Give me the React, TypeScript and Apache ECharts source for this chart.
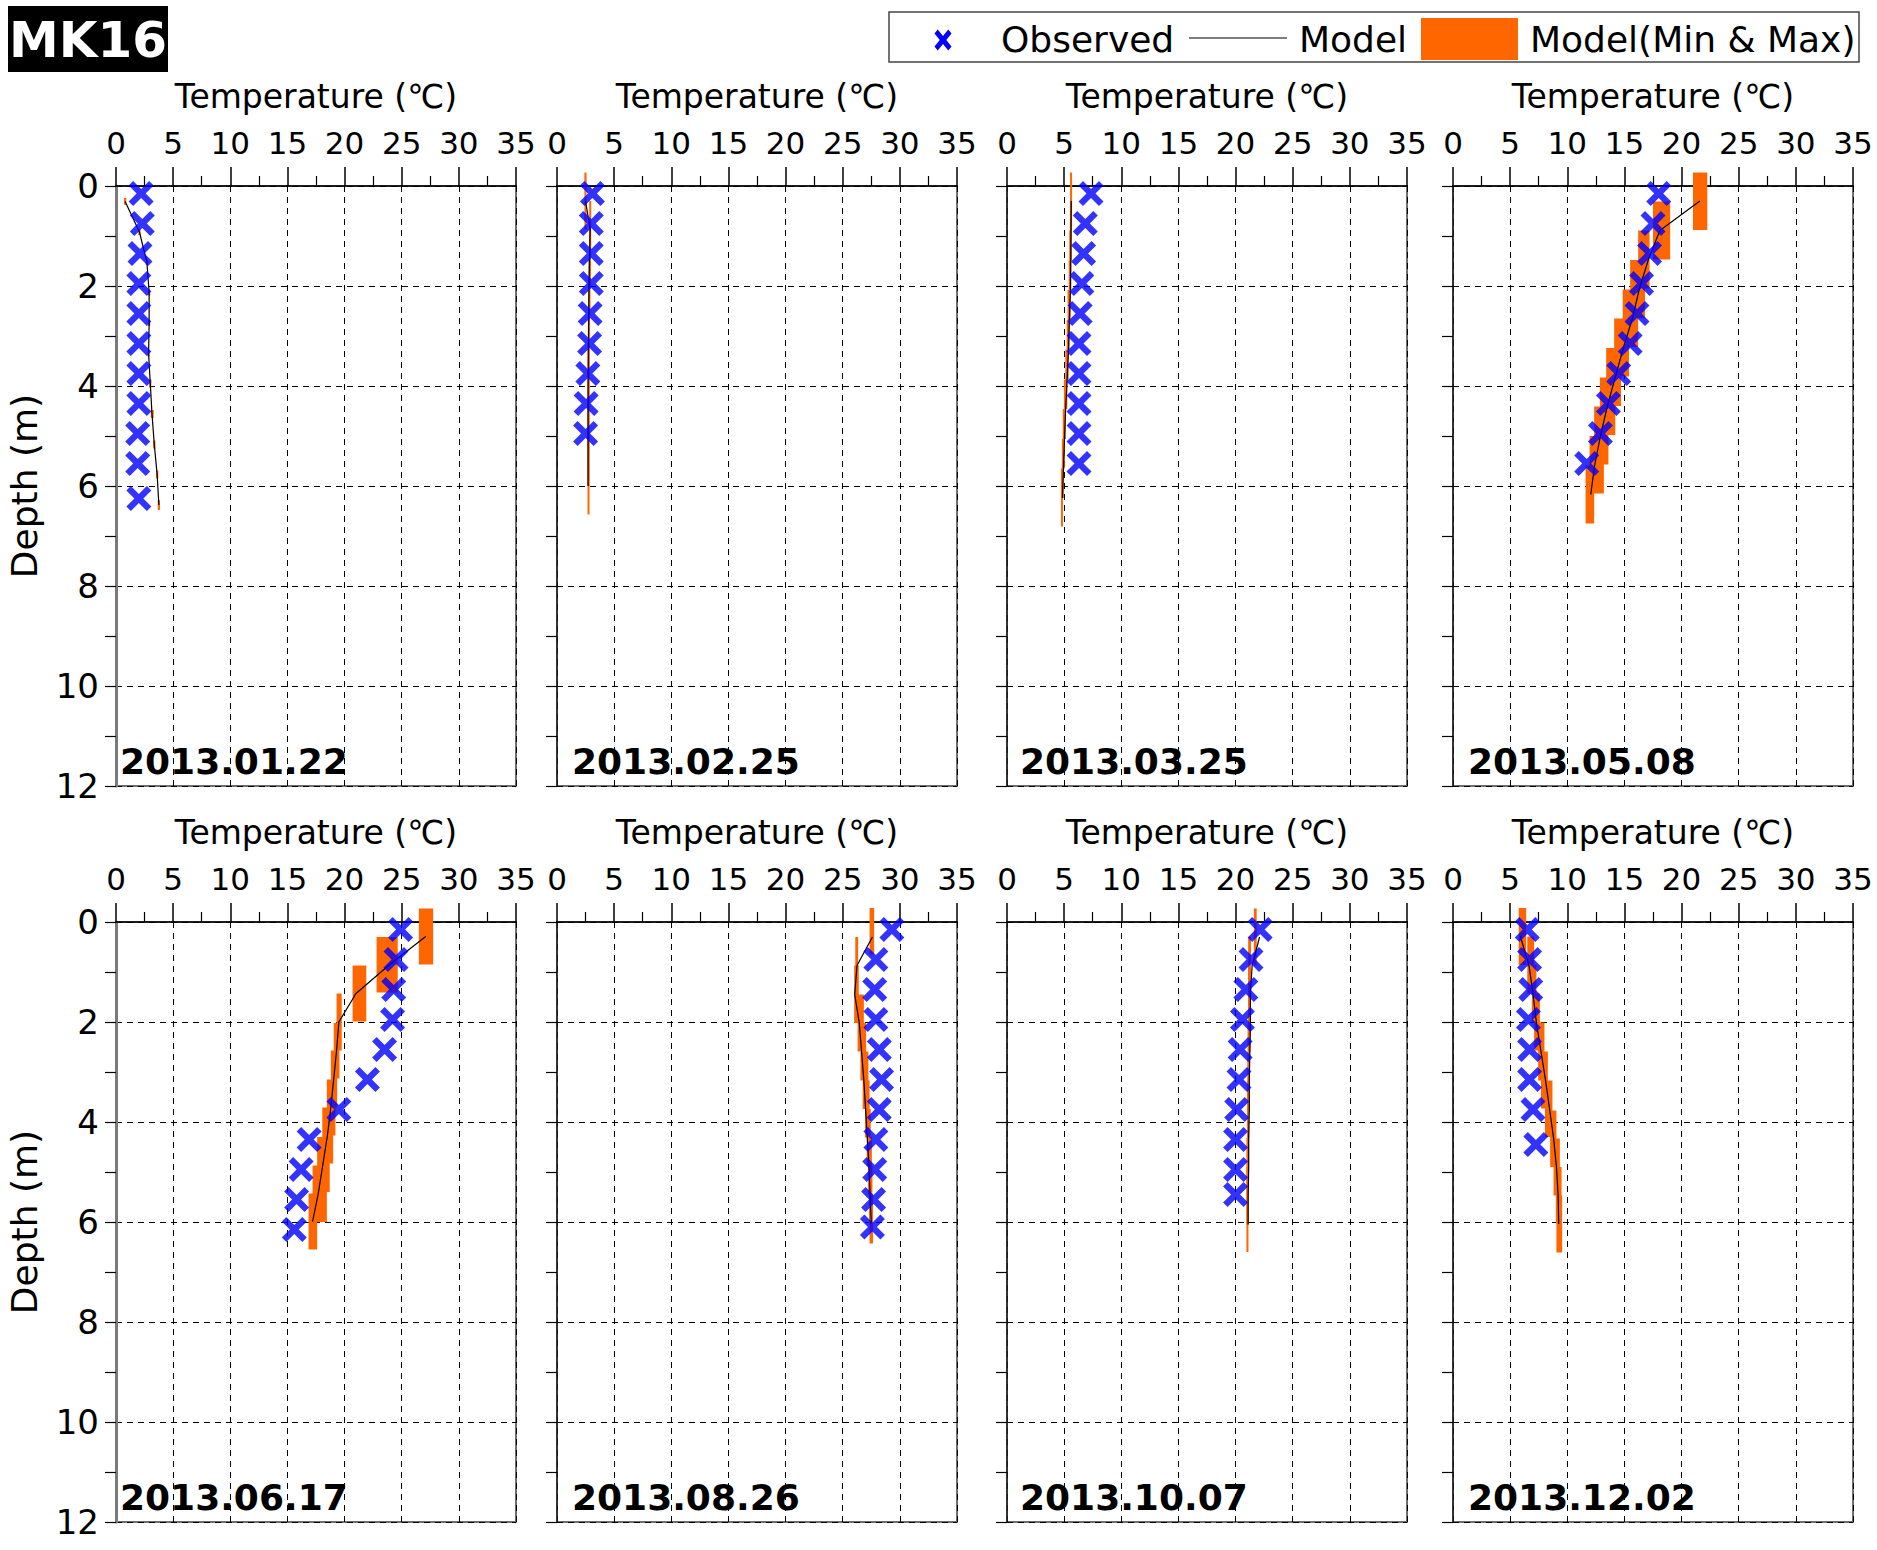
import React, { useEffect, useRef } from 'react';
import * as echarts from 'echarts';

const FONT = 'DejaVu Sans';

const dates = ['2013.01.22', '2013.02.25', '2013.03.25', '2013.05.08', '2013.06.17', '2013.08.26', '2013.10.07', '2013.12.02'];
const xTicks = [0, 5, 10, 15, 20, 25, 30, 35];
const yTicks = [0, 2, 4, 6, 8, 10, 12];
const legendNames = ['Observed', 'Model', 'Model(Min & Max)'];

// Observed profiles
const obsDepth1 = [0.15, 0.75, 1.35, 1.95, 2.55, 3.15, 3.75, 4.35, 4.95, 5.55, 6.25];
const obsTemp1 = [2.2, 2.3, 2.1, 2.0, 2.0, 2.0, 2.0, 2.0, 1.9, 1.9, 2.0];
const obsDepth2 = [0.15, 0.75, 1.35, 1.95, 2.55, 3.15, 3.75, 4.35, 4.95];
const obsTemp2 = [3.1, 3.0, 3.0, 3.0, 2.9, 2.85, 2.7, 2.55, 2.5];
const obsDepth3 = [0.15, 0.75, 1.35, 1.95, 2.55, 3.15, 3.75, 4.35, 4.95, 5.55];
const obsTemp3 = [7.35, 6.85, 6.7, 6.55, 6.4, 6.3, 6.3, 6.3, 6.3, 6.3];
const obsDepth4 = [0.15, 0.75, 1.35, 1.95, 2.55, 3.15, 3.75, 4.35, 4.95, 5.55];
const obsTemp4 = [18.0, 17.5, 17.2, 16.5, 16.1, 15.5, 14.5, 13.6, 12.9, 11.7];
const obsDepth5 = [0.15, 0.75, 1.35, 1.95, 2.55, 3.15, 3.75, 4.35, 4.95, 5.55, 6.15];
const obsTemp5 = [24.9, 24.5, 24.3, 24.2, 23.5, 22.0, 19.5, 16.9, 16.2, 15.8, 15.6];
const obsDepth6 = [0.15, 0.75, 1.35, 1.95, 2.55, 3.15, 3.75, 4.35, 4.95, 5.55, 6.1];
const obsTemp6 = [29.3, 27.9, 27.8, 27.9, 28.2, 28.4, 28.2, 27.9, 27.8, 27.7, 27.6];
const obsDepth7 = [0.15, 0.75, 1.35, 1.95, 2.55, 3.15, 3.75, 4.35, 4.95, 5.45];
const obsTemp7 = [22.15, 21.35, 20.9, 20.6, 20.4, 20.3, 20.1, 20.0, 20.0, 20.0];
const obsDepth8 = [0.15, 0.75, 1.35, 1.95, 2.55, 3.15, 3.75, 4.45];
const obsTemp8 = [6.5, 6.7, 6.8, 6.6, 6.7, 6.7, 7.0, 7.25];

// Model profiles (layer centres)
const modDepth1 = [0.31, 0.92, 1.52, 2.13, 2.74, 3.35, 3.95, 4.56, 5.17, 5.77, 6.38];
const modTemp1 = [0.8, 2.05, 2.7, 2.9, 2.9, 2.85, 3.0, 3.15, 3.35, 3.6, 3.75];
const modDepth2 = [0.3, 0.87, 1.44, 2.01, 2.58, 3.15, 3.72, 4.29, 4.86, 5.43, 6.0];
const modTemp2 = [2.5, 2.9, 2.85, 2.8, 2.78, 2.75, 2.73, 2.72, 2.72, 2.72, 2.72];
const modDepth3 = [0.3, 0.89, 1.49, 2.08, 2.68, 3.27, 3.87, 4.46, 5.06, 5.65, 6.24];
const modTemp3 = [5.62, 5.6, 5.58, 5.55, 5.46, 5.38, 5.26, 5.13, 5.03, 4.94, 4.85];
const modDepth4 = [0.3, 0.89, 1.47, 2.06, 2.65, 3.24, 3.82, 4.41, 5.0, 5.58, 6.17];
const modTemp4 = [21.6, 18.1, 17.1, 16.3, 15.7, 14.9, 14.2, 13.5, 12.9, 12.4, 12.05];
const modDepth5 = [0.29, 0.86, 1.43, 2.0, 2.57, 3.14, 3.71, 4.27, 4.85, 5.43, 5.99];
const modTemp5 = [27.1, 23.9, 21.0, 19.5, 19.3, 19.05, 18.8, 18.5, 18.1, 17.7, 17.2];
const modDepth6 = [0.3, 0.87, 1.45, 2.02, 2.59, 3.17, 3.74, 4.31, 4.88, 5.46, 6.03];
const modTemp6 = [27.6, 26.25, 26.05, 26.45, 26.65, 26.85, 27.0, 27.15, 27.3, 27.4, 27.5];
const modDepth7 = [0.3, 0.87, 1.45, 2.02, 2.6, 3.17, 3.75, 4.32, 4.9, 5.47, 6.05];
const modTemp7 = [22.1, 21.45, 21.3, 21.3, 21.25, 21.2, 21.2, 21.15, 21.15, 21.1, 21.1];
const modDepth8 = [0.29, 0.87, 1.44, 2.02, 2.59, 3.17, 3.74, 4.32, 4.89, 5.47, 6.04];
const modTemp8 = [5.9, 6.65, 7.0, 7.3, 7.7, 8.1, 8.45, 8.8, 9.05, 9.2, 9.25];

// Model min & max boxes: temperature min/max, depth top/bottom
const boxTmin1 = [0.7, 1.95, 2.6, 2.8, 2.8, 2.75, 2.9, 3.05, 3.25, 3.5, 3.65];
const boxTmax1 = [0.9, 2.15, 2.8, 3.0, 3.0, 2.95, 3.1, 3.3, 3.45, 3.7, 3.85];
const boxDtop1 = [0.24, 0.86, 1.46, 2.07, 2.68, 3.29, 3.87, 4.48, 5.09, 5.69, 6.28];
const boxDbot1 = [0.38, 0.98, 1.58, 2.19, 2.8, 3.41, 4.03, 4.64, 5.25, 5.85, 6.48];

const boxTmin2 = [2.4, 2.82, 2.8, 2.75, 2.72, 2.7, 2.68, 2.67, 2.67, 2.67, 2.67];
const boxTmax2 = [2.58, 2.97, 2.92, 2.86, 2.84, 2.81, 2.79, 2.78, 2.78, 2.78, 2.78];
const boxDtop2 = [-0.27, 0.3, 0.87, 1.44, 2.01, 2.58, 3.15, 3.72, 4.29, 4.86, 5.43];
const boxDbot2 = [0.87, 1.44, 2.01, 2.58, 3.15, 3.72, 4.29, 4.86, 5.43, 6.0, 6.57];

const boxTmin3 = [5.52, 5.5, 5.45, 5.4, 5.3, 5.22, 5.1, 4.98, 4.88, 4.8, 4.72];
const boxTmax3 = [5.65, 5.63, 5.6, 5.56, 5.48, 5.4, 5.28, 5.15, 5.05, 4.96, 4.88];
const boxDtop3 = [-0.27, 0.3, 0.89, 1.49, 2.08, 2.68, 3.27, 3.87, 4.46, 5.06, 5.65];
const boxDbot3 = [0.89, 1.49, 2.08, 2.68, 3.27, 3.87, 4.46, 5.06, 5.65, 6.24, 6.81];

const boxTmin4 = [21.0, 17.5, 16.2, 15.5, 14.85, 14.1, 13.4, 12.85, 12.35, 11.95, 11.6];
const boxTmax4 = [22.25, 19.0, 17.2, 16.8, 16.2, 15.4, 14.7, 14.2, 13.6, 13.2, 12.35];
const boxDtop4 = [-0.27, 0.31, 0.89, 1.48, 2.07, 2.65, 3.24, 3.83, 4.41, 5.0, 5.59];
const boxDbot4 = [0.88, 1.47, 2.05, 2.64, 3.22, 3.81, 4.4, 4.98, 5.57, 6.15, 6.75];

const boxTmin5 = [26.5, 22.8, 20.7, 19.3, 19.05, 18.8, 18.45, 18.05, 17.6, 17.2, 16.85];
const boxTmax5 = [27.75, 24.65, 21.9, 19.75, 19.55, 19.35, 19.2, 19.0, 18.7, 18.45, 17.6];
const boxDtop5 = [-0.27, 0.3, 0.87, 1.43, 2.02, 2.57, 3.15, 3.71, 4.3, 4.87, 5.43];
const boxDbot5 = [0.85, 1.41, 1.99, 2.57, 3.13, 3.7, 4.27, 4.83, 5.4, 6.0, 6.55];

const boxTmin6 = [27.35, 26.1, 26.0, 26.3, 26.55, 26.75, 26.95, 27.1, 27.2, 27.3, 27.35];
const boxTmax6 = [27.75, 26.35, 26.4, 26.85, 27.05, 27.25, 27.35, 27.45, 27.55, 27.6, 27.65];
const boxDtop6 = [-0.28, 0.3, 0.87, 1.45, 2.02, 2.59, 3.17, 3.74, 4.31, 4.88, 5.46];
const boxDbot6 = [0.65, 1.41, 2.02, 2.59, 3.17, 3.74, 4.31, 4.88, 5.46, 6.03, 6.43];

const boxTmin7 = [21.6, 21.1, 21.1, 21.1, 21.05, 21.05, 21.0, 21.0, 20.95, 20.95, 20.95];
const boxTmax7 = [21.85, 21.35, 21.3, 21.3, 21.25, 21.2, 21.2, 21.15, 21.15, 21.1, 21.1];
const boxDtop7 = [-0.27, 0.3, 0.87, 1.45, 2.02, 2.6, 3.17, 3.75, 4.32, 4.9, 5.47];
const boxDbot7 = [0.87, 1.45, 2.02, 2.6, 3.17, 3.75, 4.32, 4.9, 5.47, 6.05, 6.6];

const boxTmin8 = [5.75, 6.5, 6.9, 7.1, 7.45, 7.7, 8.05, 8.5, 8.8, 9.0, 9.05];
const boxTmax8 = [6.4, 7.1, 7.3, 7.6, 8.0, 8.3, 8.7, 9.05, 9.35, 9.5, 9.55];
const boxDtop8 = [-0.28, 0.29, 0.86, 1.43, 2.01, 2.59, 3.17, 3.77, 4.33, 4.9, 5.47];
const boxDbot8 = [0.86, 1.43, 2.0, 2.57, 3.17, 3.73, 4.3, 4.9, 5.47, 6.03, 6.61];

const obsDepths = [obsDepth1, obsDepth2, obsDepth3, obsDepth4, obsDepth5, obsDepth6, obsDepth7, obsDepth8];
const obsTemps = [obsTemp1, obsTemp2, obsTemp3, obsTemp4, obsTemp5, obsTemp6, obsTemp7, obsTemp8];
const modDepths = [modDepth1, modDepth2, modDepth3, modDepth4, modDepth5, modDepth6, modDepth7, modDepth8];
const modTemps = [modTemp1, modTemp2, modTemp3, modTemp4, modTemp5, modTemp6, modTemp7, modTemp8];
const boxTmins = [boxTmin1, boxTmin2, boxTmin3, boxTmin4, boxTmin5, boxTmin6, boxTmin7, boxTmin8];
const boxTmaxs = [boxTmax1, boxTmax2, boxTmax3, boxTmax4, boxTmax5, boxTmax6, boxTmax7, boxTmax8];
const boxDtops = [boxDtop1, boxDtop2, boxDtop3, boxDtop4, boxDtop5, boxDtop6, boxDtop7, boxDtop8];
const boxDbots = [boxDbot1, boxDbot2, boxDbot3, boxDbot4, boxDbot5, boxDbot6, boxDbot7, boxDbot8];

// Layout
const W = 1877;
const H = 1550;
const PANEL_LEFT = [116, 557, 1007, 1453];
const DATE_OFFSET = [4, 15, 13, 15];
const ROW_TOP = [186, 922];
const PW = 400;
const PH = 600;
const ORANGE = '#ff6600';
const BLUE = '#0000ff';
const XPATH = 'path://M0,3.6 L3.6,0 L10,6.4 L16.4,0 L20,3.6 L13.6,10 L20,16.4 L16.4,20 L10,13.6 L3.6,20 L0,16.4 L6.4,10 Z';

function xPolygon(cx: number, cy: number, sx: number, sy: number) {
  const pts = [[0, 3.8], [3.8, 0], [10, 6.2], [16.2, 0], [20, 3.8], [13.8, 10], [20, 16.2], [16.2, 20], [10, 13.8], [3.8, 20], [0, 16.2], [6.2, 10]];
  return pts.map(([a, b]) => [cx + (a - 10) * sx / 20, cy + (b - 10) * sy / 20]);
}

export default function App() {
  const ref = useRef<HTMLDivElement>(null);
  useEffect(() => {
    if (!ref.current) return;
    const chart = echarts.init(ref.current, undefined, { renderer: 'svg' });
    const grids: any[] = [];
    const xAxes: any[] = [];
    const yAxes: any[] = [];
    const series: any[] = [];
    const graphics: any[] = [];

    for (let i = 0; i < 8; i++) {
      const left = PANEL_LEFT[i % 4];
      const top = ROW_TOP[Math.floor(i / 4)];
      grids.push({ left, top, width: PW, height: PH, show: true, borderColor: '#6e6e6e', borderWidth: 2, backgroundColor: 'transparent' });
      xAxes.push({
        gridIndex: i, type: 'value', position: 'top', min: xTicks[0], max: xTicks[xTicks.length - 1], interval: xTicks[1] - xTicks[0],
        axisLine: { show: true, onZero: false, lineStyle: { color: '#000', width: 1.5 } },
        axisTick: { show: true, inside: false, length: 19, lineStyle: { color: '#000', width: 1.5 } },
        minorTick: { show: true, splitNumber: 2, length: 10, lineStyle: { color: '#000', width: 1.2 } },
        axisLabel: { show: true, fontSize: 31, fontFamily: FONT, color: '#000', margin: 28 },
        splitLine: { show: true, lineStyle: { color: '#000', type: [6, 5], width: 1 } },
      });
      yAxes.push({
        gridIndex: i, type: 'value', inverse: true, min: yTicks[0], max: yTicks[yTicks.length - 1], interval: yTicks[1] - yTicks[0],
        axisLine: { show: true, onZero: false, lineStyle: { color: i % 4 === 0 ? '#7a7a7a' : '#222', width: i % 4 === 0 ? 3 : 1.5 } },
        axisTick: { show: true, inside: false, length: 11, lineStyle: { color: '#000', width: 1.2 } },
        minorTick: { show: true, splitNumber: 2, length: 11, lineStyle: { color: '#000', width: 1.2 } },
        axisLabel: { show: i % 4 === 0, fontSize: 34, fontFamily: FONT, color: '#000', margin: 17 },
        splitLine: { show: true, lineStyle: { color: '#000', type: [6, 5], width: 1 } },
      });

      const boxData = boxTmins[i].map((t, k) => [t, boxTmaxs[i][k], boxDtops[i][k], boxDbots[i][k]]);
      series.push({
        type: 'custom', name: legendNames[2], xAxisIndex: i, yAxisIndex: i, clip: false, z: 3,
        encode: { x: [0, 1], y: [2, 3] },
        data: boxData,
        renderItem: (params: any, api: any) => {
          const p1 = api.coord([api.value(0), api.value(2)]);
          const p2 = api.coord([api.value(1), api.value(3)]);
          return {
            type: 'rect',
            shape: { x: p1[0], y: p1[1], width: Math.max(p2[0] - p1[0], 2), height: Math.max(p2[1] - p1[1], 2) },
            style: { fill: ORANGE },
          };
        },
      });
      series.push({
        type: 'line', name: legendNames[1], xAxisIndex: i, yAxisIndex: i, z: 4, symbol: 'none', showSymbol: false,
        lineStyle: { color: '#000', width: 1.2 },
        data: modDepths[i].map((d, k) => [modTemps[i][k], d]),
      });
      series.push({
        type: 'scatter', name: legendNames[0], xAxisIndex: i, yAxisIndex: i, z: 5,
        symbol: XPATH, symbolSize: 25, itemStyle: { color: BLUE },
        data: obsDepths[i].map((d, k) => [obsTemps[i][k], d]),
      });

      graphics.push({
        type: 'text', x: left + 200, y: top - 90, z: 10,
        style: { text: 'Temperature (℃)', fontSize: 33, fontFamily: FONT, fill: '#000', textAlign: 'center', textVerticalAlign: 'middle', align: 'center', verticalAlign: 'middle' },
      });
      graphics.push({
        type: 'text', x: left + DATE_OFFSET[i % 4], y: top + 575, z: 10,
        style: { text: dates[i], fontSize: 36, fontWeight: 'bold', fontFamily: FONT, fill: '#000', textAlign: 'left', textVerticalAlign: 'middle', align: 'left', verticalAlign: 'middle' },
      });
    }

    for (let r = 0; r < 2; r++) {
      graphics.push({
        type: 'text', x: 24, y: ROW_TOP[r] + 300, rotation: Math.PI / 2, z: 10,
        style: { text: 'Depth (m)', fontSize: 36, fontFamily: FONT, fill: '#000', textAlign: 'center', textVerticalAlign: 'middle', align: 'center', verticalAlign: 'middle' },
      });
    }

    // Title box
    graphics.push({ type: 'rect', shape: { x: 8, y: 6, width: 160, height: 66 }, style: { fill: '#000' }, z: 10 });
    graphics.push({
      type: 'text', x: 88, y: 40, z: 11,
      style: { text: 'MK16', fontSize: 50, fontWeight: 'bold', fontFamily: FONT, fill: '#fff', textAlign: 'center', textVerticalAlign: 'middle', align: 'center', verticalAlign: 'middle' },
    });

    // Legend
    graphics.push({ type: 'rect', shape: { x: 889, y: 12, width: 970, height: 50 }, style: { fill: '#fff', stroke: '#444', lineWidth: 1.5 }, z: 10 });
    graphics.push({ type: 'polygon', shape: { points: xPolygon(943, 40, 17, 21) }, style: { fill: BLUE }, z: 11 });
    graphics.push({
      type: 'text', x: 1001, y: 39, z: 11,
      style: { text: legendNames[0], fontSize: 36, fontFamily: FONT, fill: '#000', textAlign: 'left', textVerticalAlign: 'middle', align: 'left', verticalAlign: 'middle' },
    });
    graphics.push({ type: 'line', shape: { x1: 1189, y1: 38, x2: 1287, y2: 38 }, style: { stroke: '#000', lineWidth: 1.2 }, z: 11 });
    graphics.push({
      type: 'text', x: 1299, y: 39, z: 11,
      style: { text: legendNames[1], fontSize: 36, fontFamily: FONT, fill: '#000', textAlign: 'left', textVerticalAlign: 'middle', align: 'left', verticalAlign: 'middle' },
    });
    graphics.push({ type: 'rect', shape: { x: 1421, y: 18, width: 97, height: 42 }, style: { fill: ORANGE }, z: 11 });
    graphics.push({
      type: 'text', x: 1530, y: 39, z: 11,
      style: { text: legendNames[2], fontSize: 36, fontFamily: FONT, fill: '#000', textAlign: 'left', textVerticalAlign: 'middle', align: 'left', verticalAlign: 'middle' },
    });

    chart.setOption({
      animation: false,
      backgroundColor: '#fff',
      textStyle: { fontFamily: FONT },
      grid: grids,
      xAxis: xAxes,
      yAxis: yAxes,
      series,
      graphic: { elements: graphics },
    });
    return () => chart.dispose();
  }, []);
  return <div ref={ref} style={{ position: 'absolute', left: 0, top: 0, width: W, height: H }} />;
}
